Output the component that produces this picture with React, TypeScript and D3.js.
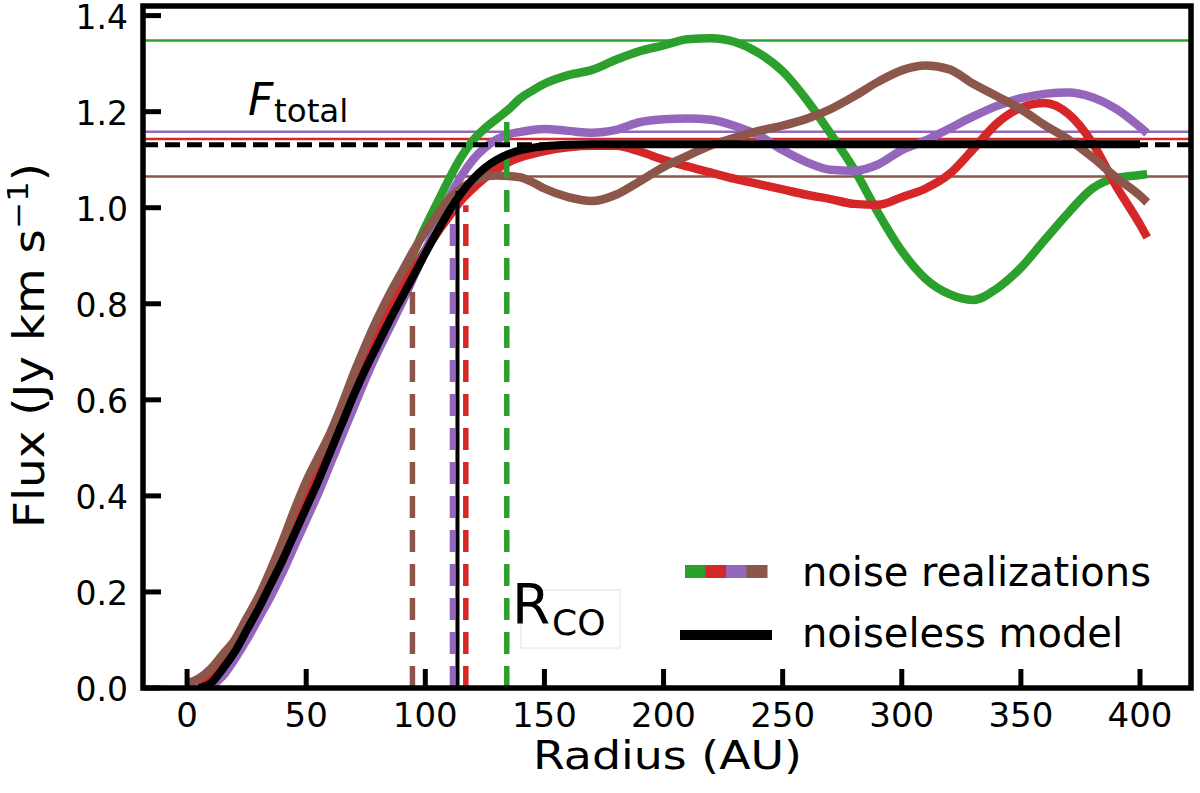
import * as d3 from 'd3';

// radius grid (AU) shared by the noise realizations
const radius = [
  0, 5, 10, 15, 20, 25, 30, 35, 40, 45, 50, 55, 60, 65, 70, 75, 80, 85, 90, 95, 100,
  105, 110, 115, 120, 125, 130, 135, 140, 145, 150,
  160, 170, 180, 190, 200, 210, 220, 230, 240, 250, 260, 270, 280, 290, 300,
  310, 320, 330, 340, 350, 360, 370, 380, 390, 400, 403,
];

const greenFlux = [
  0, 0.003, 0.015, 0.045, 0.085, 0.13, 0.175, 0.225, 0.275, 0.33, 0.385, 0.44, 0.5, 0.56, 0.62, 0.68, 0.74, 0.795, 0.85, 0.905, 0.96,
  1.01, 1.06, 1.105, 1.14, 1.165, 1.185, 1.205, 1.228, 1.244, 1.258,
  1.276, 1.287, 1.308, 1.326, 1.338, 1.351, 1.353, 1.345, 1.322, 1.284, 1.225, 1.155, 1.08, 0.99, 0.91,
  0.852, 0.82, 0.808, 0.832, 0.875, 0.933, 0.99, 1.04, 1.062, 1.068, 1.07,
];

const redFlux = [
  0, 0.005, 0.02, 0.05, 0.09, 0.135, 0.18, 0.23, 0.28, 0.335, 0.39, 0.45, 0.51, 0.57, 0.63, 0.685, 0.735, 0.785, 0.83, 0.872, 0.912,
  0.948, 0.982, 1.015, 1.04, 1.062, 1.08, 1.095, 1.105, 1.112, 1.118,
  1.126, 1.129, 1.129, 1.117, 1.1, 1.086, 1.073, 1.06, 1.049, 1.038, 1.027, 1.018, 1.008, 1.006, 1.022,
  1.04, 1.07, 1.122, 1.176, 1.208, 1.218, 1.195, 1.135, 1.045, 0.965, 0.938,
];

const purpleFlux = [
  0, 0, 0.005, 0.025, 0.06, 0.1, 0.145, 0.19, 0.24, 0.295, 0.35, 0.405, 0.465, 0.525, 0.585, 0.645, 0.7, 0.75, 0.8, 0.855, 0.91,
  0.965, 1.02, 1.065, 1.1, 1.125, 1.142, 1.153, 1.158, 1.162, 1.164,
  1.16, 1.156, 1.162, 1.178, 1.184, 1.186, 1.183, 1.17, 1.15, 1.12, 1.095, 1.079, 1.077, 1.09, 1.12,
  1.14, 1.165, 1.19, 1.212, 1.228, 1.237, 1.24, 1.23, 1.206, 1.168, 1.155,
];

const brownFlux = [
  0.01, 0.02, 0.04, 0.07, 0.1, 0.145, 0.19, 0.245, 0.305, 0.37, 0.43, 0.48, 0.53, 0.59, 0.655, 0.715, 0.77, 0.82, 0.865, 0.91, 0.95,
  0.985, 1.018, 1.04, 1.055, 1.065, 1.067, 1.066, 1.063, 1.053, 1.04,
  1.022, 1.014, 1.027, 1.055, 1.085, 1.108, 1.13, 1.146, 1.16, 1.171, 1.185, 1.205, 1.232, 1.262, 1.286,
  1.296, 1.288, 1.258, 1.232, 1.205, 1.172, 1.142, 1.105, 1.063, 1.025, 1.011,
];

// noiseless model
const modelRadius = [
  5, 10, 15, 20, 25, 30, 35, 40, 45, 50, 55, 60, 65, 70, 75, 80, 85, 90, 95, 100,
  105, 110, 115, 120, 125, 130, 135, 140, 145, 150,
  160, 170, 180, 190, 200, 210, 220, 230, 240, 250, 260, 270, 280, 290, 300,
  310, 320, 330, 340, 350, 360, 370, 380, 390, 400,
];
const modelFlux = [
  0, 0.01, 0.04, 0.075, 0.12, 0.165, 0.215, 0.265, 0.32, 0.375, 0.43, 0.49, 0.55, 0.61, 0.665, 0.715, 0.765, 0.812, 0.858, 0.905,
  0.95, 0.993, 1.03, 1.06, 1.083, 1.1, 1.112, 1.12, 1.125, 1.128,
  1.131, 1.132, 1.132, 1.132, 1.132, 1.132, 1.132, 1.132, 1.132, 1.132, 1.132, 1.132, 1.132, 1.132, 1.132,
  1.132, 1.132, 1.132, 1.132, 1.132, 1.132, 1.132, 1.132, 1.132, 1.132,
];

const seriesColors = ['#2ca02c', '#d62728', '#9467bd', '#8c564b'];
const seriesFlux = [greenFlux, redFlux, purpleFlux, brownFlux];
// total flux of each realization (green, red, purple, brown) and of the model
const totalFlux = [1.348, 1.143, 1.158, 1.065];
const modelTotal = 1.131;
// R_CO of each realization and of the model, with the height of its marker
const rcoRadius = [134.2, 117, 111.4, 94.6];
const rcoTop = [1.19, 1.005, 1.0, 0.86];
const modelRco = 113.5;
const modelRcoTop = 1.035;

const xTicks = [0, 50, 100, 150, 200, 250, 300, 350, 400];
const yTicks = [0, 0.2, 0.4, 0.6, 0.8, 1.0, 1.2, 1.4];

const FONT = '"DejaVu Sans", sans-serif';

export default function App() {
  const x = d3.scaleLinear().domain([-18.5, 421.4]).range([143, 1191]);
  const y = d3.scaleLinear().domain([0, 1.42]).range([688, 6]);
  const [x0, x1] = x.range();
  const [y0, y1] = y.range();

  const line = d3
    .line<[number, number]>()
    .x((d) => x(d[0]))
    .y((d) => y(d[1]))
    .curve(d3.curveMonotoneX);

  const legendX = 685;
  const legendSeg = 20.5;

  return (
    <div style={{ position: 'absolute', left: 0, top: 0 }}>
      <svg width={1200} height={793} style={{ display: 'block', background: '#fff' }} fontFamily={FONT}>
        <defs>
          <clipPath id="plot">
            <rect x={x0} y={y1} width={x1 - x0} height={y0 - y1} />
          </clipPath>
        </defs>

        <g clipPath="url(#plot)">
          {/* total flux levels */}
          {totalFlux.map((f, i) => (
            <line key={'h' + i} x1={x0} x2={x1} y1={y(f)} y2={y(f)} stroke={seriesColors[i]} strokeWidth={2.5} />
          ))}

          {/* noise realizations */}
          {seriesFlux.map((vals, i) => (
            <path
              key={'s' + i}
              d={line(radius.map((r, j) => [r, vals[j]] as [number, number])) || ''}
              fill="none"
              stroke={seriesColors[i]}
              strokeWidth={8.5}
              strokeLinejoin="round"
            />
          ))}

          {/* R_CO markers */}
          {rcoRadius.map((r, i) => (
            <line
              key={'v' + i}
              x1={x(r)}
              x2={x(r)}
              y1={y(0)}
              y2={y(rcoTop[i])}
              stroke={seriesColors[i]}
              strokeWidth={5.5}
              strokeDasharray="22,12"
            />
          ))}

          {/* noiseless model */}
          <path
            d={line(modelRadius.map((r, j) => [r, modelFlux[j]] as [number, number])) || ''}
            fill="none"
            stroke="#000"
            strokeWidth={8}
            strokeLinejoin="round"
          />
          <line x1={x(modelRco)} x2={x(modelRco)} y1={y(0)} y2={y(modelRcoTop)} stroke="#000" strokeWidth={4} />
          <line
            x1={x0}
            x2={x1}
            y1={y(modelTotal)}
            y2={y(modelTotal)}
            stroke="#000"
            strokeWidth={5}
            strokeDasharray="15,7"
          />
        </g>

        {/* annotations */}
        <text x={248} y={115} fontSize={44} fontStyle="italic">F</text>
        <text x={274} y={122} fontSize={32.5}>total</text>
        <rect x={521} y={590} width={99} height={58} fill="none" stroke="#ececec" strokeWidth={1.5} />
        <text x={512} y={623} fontSize={55}>R</text>
        <text x={552} y={635} fontSize={36}>CO</text>

        {/* legend */}
        {seriesColors.map((c, i) => (
          <rect key={'lg' + i} x={legendX + i * legendSeg} y={565} width={legendSeg + 0.5} height={13} fill={c} />
        ))}
        <line x1={680} x2={772} y1={635} y2={635} stroke="#000" strokeWidth={10} />
        <text x={802} y={586} fontSize={40}>noise realizations</text>
        <text x={802} y={647} fontSize={40}>noiseless model</text>

        {/* ticks */}
        {xTicks.map((t) => (
          <g key={'xt' + t}>
            <line x1={x(t)} x2={x(t)} y1={y0} y2={y0 - 19} stroke="#000" strokeWidth={5} />
            <text x={x(t)} y={727} fontSize={34} textAnchor="middle">{t}</text>
          </g>
        ))}
        {yTicks.map((t) => (
          <g key={'yt' + t}>
            <line x1={x0} x2={x0 + 18} y1={y(t)} y2={y(t)} stroke="#000" strokeWidth={5} />
            <text x={128} y={y(t) + 13} fontSize={33} textAnchor="end">{t.toFixed(1)}</text>
          </g>
        ))}

        {/* spines */}
        <rect x={x0} y={y1} width={x1 - x0} height={y0 - y1} fill="none" stroke="#000" strokeWidth={5.5} />

        {/* axis labels */}
        <text x={667.5} y={769} fontSize={39} textAnchor="middle" textLength={269} lengthAdjust="spacingAndGlyphs">
          Radius (AU)
        </text>
        <text
          transform="translate(44,345.5) rotate(-90)"
          x={0}
          y={0}
          fontSize={42}
          textAnchor="middle"
          textLength={365}
          lengthAdjust="spacingAndGlyphs"
        >
          Flux (Jy km s
          <tspan dy={-16} fontSize={29}>−1</tspan>
          <tspan dy={16}>)</tspan>
        </text>
      </svg>
    </div>
  );
}
